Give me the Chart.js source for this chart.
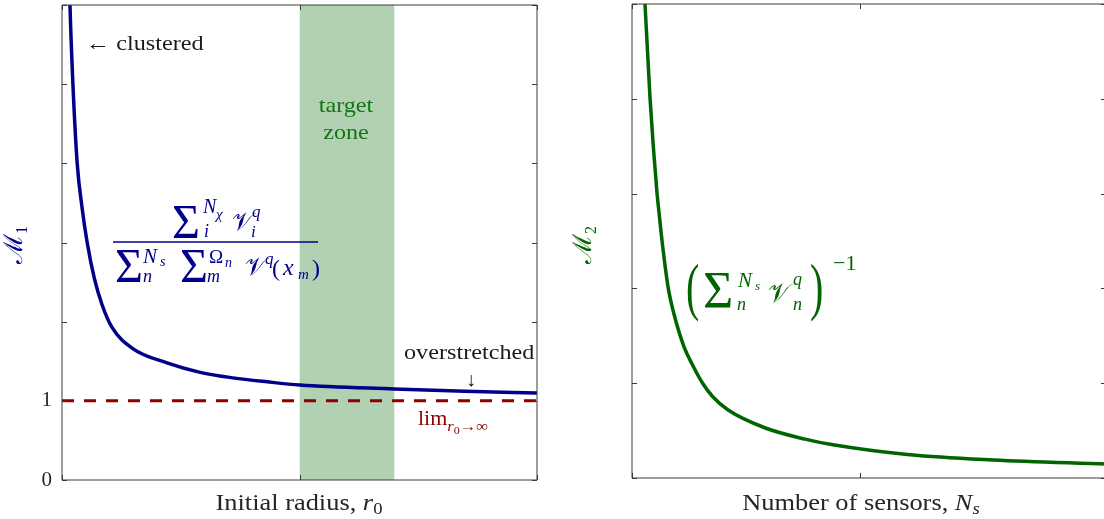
<!DOCTYPE html>
<html lang="en">
<head>
<meta charset="UTF-8">
<title>Metrics M1 and M2</title>
<script src="https://cdn.jsdelivr.net/npm/chart.js@4/dist/chart.umd.min.js"></script>
<style>
  body { margin: 0; background: #fff; }
  #wrap { position: relative; width: 1104px; height: 519px; overflow: hidden; }
  #leftChart { position: absolute; left: 0; top: 0; }
  #rightChart { position: absolute; left: 560px; top: 0; }
</style>
</head>
<body>
<div id="wrap">
  <canvas id="leftChart" width="560" height="519"></canvas>
  <canvas id="rightChart" width="546" height="519"></canvas>
</div>
<script>
// ---- data ----
// left panel: M1 against initial radius r0 (axis 0..1, no numeric labels)
const radiusX  = [0.013, 0.0168, 0.023, 0.032, 0.042, 0.053, 0.068, 0.084, 0.105, 0.149, 0.221, 0.291, 0.360, 0.432, 0.501, 0.699, 0.848, 1.0];
const m1Values = [7.0,   6.0,    5.00,  4.00,  3.45,  3.00,  2.55,  2.22,  1.93,  1.66,  1.48,  1.36,  1.29,  1.24,  1.20,  1.15,  1.12,  1.10];
const limitX = [0, 1];
const limitValues = [1, 1];
const zoneX = [0.5, 0.7];
const radiusTicks = [0, 0.5, 1];
const m1Max = 6;
const m1TickLabels = [0, 1];

// right panel: M2 against number of sensors Ns
const sensorsX = [0.024, 0.0274, 0.038, 0.0527, 0.057, 0.0648, 0.0766, 0.088, 0.110, 0.128, 0.149, 0.170, 0.202, 0.280, 0.365, 0.424, 0.586, 0.762, 1.0];
const m2Values = [5.4,   5.0,    4.01,  3.01,   2.80,  2.44,   2.00,   1.74,  1.38,  1.19,  1.00,  0.86,  0.72,  0.53,  0.41,  0.35,  0.245, 0.19,  0.147];
const sensorTicks = [0, 0.48, 1];
const m2Max = 5;

const SERIF = '"Liberation Serif", "DejaVu Serif", serif';
const TEXT_SX = 1.1;   // widen Times a bit towards the LaTeX look
const BLUE = '#00008b', RED = '#8b0000', GREEN = '#006400';

function pts(xs, ys) { return xs.map((x, i) => ({ x: x, y: ys[i] })); }

// frame + inward ticks on all four sides
const frameTicks = {
  id: 'frameTicks',
  afterDraw(chart) {
    const { ctx, chartArea: a, scales: { x, y } } = chart;
    const len = 5;
    ctx.save();
    ctx.strokeStyle = '#3a3a3a';
    ctx.lineWidth = 1;
    ctx.beginPath();
    ctx.rect(a.left, a.top, a.right - a.left, a.bottom - a.top);
    x.ticks.forEach(t => {
      const px = Math.round(x.getPixelForValue(t.value)) + 0.5;
      ctx.moveTo(px, a.bottom); ctx.lineTo(px, a.bottom - len);
      ctx.moveTo(px, a.top); ctx.lineTo(px, a.top + len);
    });
    y.ticks.forEach(t => {
      const py = Math.round(y.getPixelForValue(t.value)) + 0.5;
      ctx.moveTo(a.left, py); ctx.lineTo(a.left + len, py);
      ctx.moveTo(a.right, py); ctx.lineTo(a.right - len, py);
    });
    ctx.stroke();
    ctx.restore();
  }
};

// text + math drawn as runs of glyphs
function drawItem(ctx, item) {
  ctx.save();
  ctx.fillStyle = item.color || '#1a1a1a';
  ctx.translate(item.x, item.y);
  if (item.rotate) ctx.rotate(item.rotate);
  ctx.scale(item.sx || 1, item.sy || 1);
  ctx.textBaseline = 'alphabetic';
  const fontOf = r => (r.italic ? 'italic ' : '') + r.size + 'px ' + (r.family || SERIF);
  let total = 0;
  item.runs.forEach(r => { ctx.font = fontOf(r); r.w = ctx.measureText(r.t).width; total += r.w + (r.dx || 0); });
  let cx = item.align === 'center' ? -total / 2 : 0;
  item.runs.forEach(r => {
    ctx.font = fontOf(r);
    cx += r.dx || 0;
    ctx.fillText(r.t, cx, r.dy || 0);
    cx += r.w;
  });
  ctx.restore();
}

// glyph list: [text, x, baseline, size, italic, vertical stretch]
function glyphs(list, color) {
  return list.map(g => ({ x: g[1], y: g[2], sy: g[5] || 1, color: color,
    runs: [{ t: g[0], size: g[3], italic: !!g[4] }] }));
}

const mathText = {
  id: 'mathText',
  afterDraw(chart, args, opts) {
    const ctx = chart.ctx;
    (opts.lines || []).forEach(l => {
      ctx.save();
      ctx.strokeStyle = l.color; ctx.lineWidth = l.width;
      ctx.beginPath(); ctx.moveTo(l.x1, l.y); ctx.lineTo(l.x2, l.y); ctx.stroke();
      ctx.restore();
    });
    (opts.items || []).forEach(it => drawItem(ctx, it));
  }
};

function baseOptions(o) {
  return {
    responsive: false,
    animation: false,
    layout: { padding: o.padding },
    plugins: { legend: { display: false }, tooltip: { enabled: false }, mathText: o.text },
    scales: {
      x: {
        type: 'linear', min: 0, max: 1,
        afterBuildTicks: s => { s.ticks = o.xTicks.map(v => ({ value: v })); },
        ticks: { display: false },
        grid: { display: false, drawTicks: false },
        border: { display: false },
        afterFit: s => { s.height = o.xHeight; s.paddingLeft = 0; s.paddingRight = 0; }
      },
      y: {
        type: 'linear', min: 0, max: o.yMax,
        ticks: {
          display: o.yLabels.length > 0,
          stepSize: 1,
          padding: 10,
          color: '#262626',
          font: { family: SERIF, size: 21 },
          callback: v => o.yLabels.includes(v) ? String(v) : ''
        },
        grid: { display: false, drawTicks: false },
        border: { display: false },
        afterFit: s => { s.width = o.yWidth; s.paddingTop = 0; s.paddingBottom = 0; }
      }
    }
  };
}

// ---- left chart ----
const leftText = {
  lines: [{ x1: 113, x2: 318, y: 242, color: BLUE, width: 1.6 }],
  items: [
    { x: 22, y: 245, rotate: -Math.PI / 2, align: 'center', color: BLUE,
      runs: [{ t: 'ℳ', size: 26 }, { t: '1', size: 16, dy: 5 }] },
    { x: 86, y: 50, sx: TEXT_SX, runs: [{ t: '← clustered', size: 22 }] },
    { x: 346, y: 112, sx: TEXT_SX, align: 'center', color: '#127612', runs: [{ t: 'target', size: 22 }] },
    { x: 346, y: 139, sx: TEXT_SX, align: 'center', color: '#127612', runs: [{ t: 'zone', size: 22 }] },
    { x: 404, y: 359, sx: TEXT_SX, runs: [{ t: 'overstretched', size: 22 }] },
    { x: 471, y: 386, align: 'center', runs: [{ t: '↓', size: 20 }] },
    { x: 418, y: 425, sx: TEXT_SX, color: RED, runs: [
      { t: 'lim', size: 20 }, { t: 'r', size: 15, italic: true, dy: 6 },
      { t: '0', size: 11, dy: 9 }, { t: '→∞', size: 15, dy: 6 }] },
    { x: 299, y: 510, sx: TEXT_SX, align: 'center', color: '#262626', runs: [
      { t: 'Initial radius, ', size: 24 }, { t: 'r', size: 24, italic: true }, { t: '0', size: 17, dy: 4 }] }
  ].concat(glyphs([
    ['Σ', 172, 238, 48], ['N', 203, 213, 20, 1], ['χ', 216, 219, 15, 1], ['i', 204, 237, 18, 1],
    ['𝒱', 232, 230, 25], ['q', 252, 217, 17, 1], ['i', 251, 237, 17, 1],
    ['Σ', 115, 282, 48], ['N', 143, 263, 21, 1], ['s', 160, 266, 14, 1], ['n', 143, 282, 18, 1],
    ['Σ', 180, 282, 48], ['Ω', 209, 263, 19], ['n', 225, 267, 14, 1], ['m', 207, 282, 18, 1],
    ['𝒱', 245, 275, 25], ['q', 265, 264, 17, 1],
    ['(', 272, 276, 24], ['x', 283, 275, 24, 1], ['m', 298, 279, 15, 1], [')', 312, 276, 24]
  ], BLUE))
};

new Chart(document.getElementById('leftChart'), {
  type: 'line',
  data: {
    datasets: [
      { label: 'target zone', data: pts(zoneX, zoneX.map(() => m1Max)), fill: 'origin',
        backgroundColor: 'rgba(0,100,0,0.3)', borderWidth: 0, pointRadius: 0, order: 3 },
      { label: 'limit r0 → ∞', data: pts(limitX, limitValues), borderColor: RED, borderWidth: 3,
        borderDash: [12, 10], pointRadius: 0, fill: false, order: 2 },
      { label: 'M1', data: pts(radiusX, m1Values), borderColor: BLUE, borderWidth: 3.5,
        pointRadius: 0, fill: false, cubicInterpolationMode: 'monotone', order: 1 }
    ]
  },
  options: baseOptions({
    padding: { top: 5, right: 23, left: 0, bottom: 0 },
    xTicks: radiusTicks, xHeight: 39, yWidth: 62, yMax: m1Max, yLabels: m1TickLabels, text: leftText
  }),
  plugins: [frameTicks, mathText]
});

// ---- right chart (coords relative to its canvas, offset 560) ----
const rightText = {
  items: [
    { x: 31, y: 245, rotate: -Math.PI / 2, align: 'center', color: GREEN,
      runs: [{ t: 'ℳ', size: 26 }, { t: '2', size: 16, dy: 5 }] },
    { x: 301, y: 510, sx: TEXT_SX, align: 'center', color: '#262626', runs: [
      { t: 'Number of sensors, ', size: 24 }, { t: 'N', size: 24, italic: true }, { t: 's', size: 17, italic: true, dy: 4 }] }
  ].concat(glyphs([
    ['(', 126, 308, 40, 0, 1.6], ['Σ', 143, 308, 52], ['N', 178, 287, 21, 1], ['s', 195, 290, 13, 1],
    ['n', 177, 310, 18, 1], ['𝒱', 208, 302, 26], ['q', 233, 285, 18, 1], ['n', 233, 310, 18, 1],
    [')', 250, 308, 40, 0, 1.6], ['−1', 273, 270, 22]
  ], GREEN))
};

new Chart(document.getElementById('rightChart'), {
  type: 'line',
  data: {
    datasets: [
      { label: 'M2', data: pts(sensorsX, m2Values), borderColor: GREEN, borderWidth: 3.5,
        pointRadius: 0, fill: false, cubicInterpolationMode: 'monotone' }
    ]
  },
  options: baseOptions({
    padding: { top: 4, right: 0, left: 0, bottom: 0 },
    xTicks: sensorTicks, xHeight: 41, yWidth: 72, yMax: m2Max, yLabels: [], text: rightText
  }),
  plugins: [frameTicks, mathText]
});
</script>
</body>
</html>
